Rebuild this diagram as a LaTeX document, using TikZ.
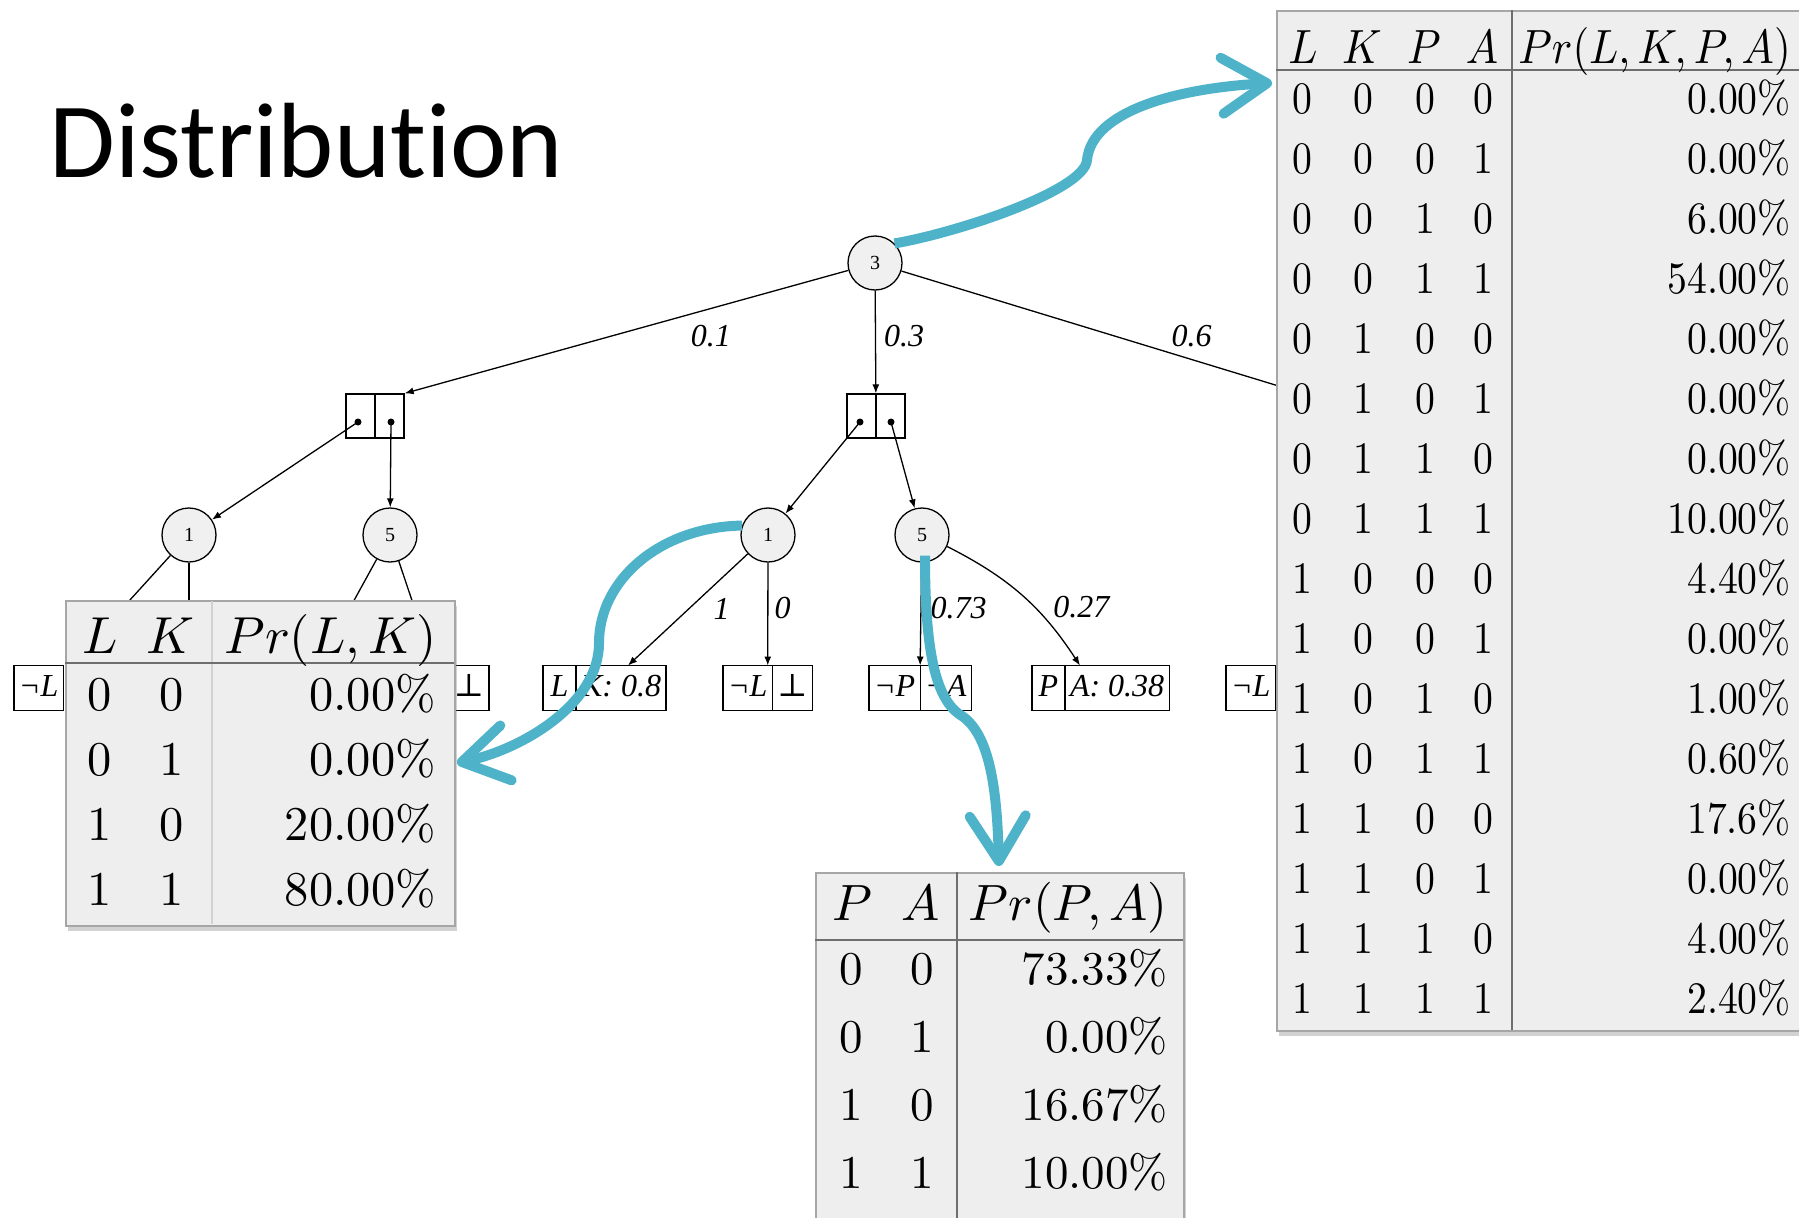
\documentclass[tikz,border=0pt]{standalone}
\usepackage{fontspec}
\usepackage{graphicx}
\usepackage{tikz}
\usetikzlibrary{arrows.meta,positioning,calc,shadows}
\newfontfamily\titlefont[Ligatures=NoCommon]{Carlito}
\newfontfamily\treefont{Liberation Serif}
\newfontfamily\botfont{DejaVu Serif}
\definecolor{callout}{HTML}{4EB3C9}
\definecolor{nodegray}{HTML}{F0F0F0}
\definecolor{tabgray}{HTML}{EEEEEE}
\definecolor{tabline}{HTML}{6E6E6E}
\newcommand{\cellLK}[1]{\scalebox{4.85}{#1}}
\newcommand{\headLK}[1]{\scalebox{5.2}{#1}}
\newcommand{\cellPA}[1]{\scalebox{4.7}{#1}}
\newcommand{\headPA}[1]{\scalebox{5.1}{#1}}
\newcommand{\cellAll}[1]{\scalebox{3.97}[4.5]{#1}}
\newcommand{\headAll}[1]{\scalebox{4.3}[4.8]{#1}}
\newcommand{\falsum}{{\botfont\upshape ⊥}}

\begin{document}
\begin{tikzpicture}[x=1pt,y=-1pt,
  var/.style={circle,draw,fill=nodegray,line width=1.3pt,minimum size=54pt,inner sep=0pt,font=\treefont\fontsize{20}{22}\selectfont},
  split/.style={draw,fill=white,line width=1.3pt,minimum width=58pt,minimum height=44pt,inner sep=0pt},
  leafcell/.style={draw,fill=white,line width=1.3pt,inner xsep=5pt,inner ysep=0pt,minimum width=33pt,text height=24pt,text depth=8pt,minimum height=45pt,outer sep=0pt,font=\treefont\itshape\fontsize{32}{38}\selectfont},
  edge/.style={line width=1.3pt,-{Latex[length=9pt,width=7pt]}},
  lbl/.style={font=\treefont\itshape\fontsize{32}{38}\selectfont,inner sep=2pt},
  tabframe/.style={draw=black!35,fill=tabgray,line width=1.5pt,inner sep=0pt,drop shadow={shadow xshift=2pt,shadow yshift=-5pt,opacity=0.35}},
  tabrule/.style={draw=tabline,line width=2pt},
  cell/.style={inner sep=0pt},
  callarrow/.style={draw=callout,line width=10pt,-{Straight Barb[length=45pt,width=56pt,round]}}]
\fill[white] (0,0) rectangle (1799,1218);
\useasboundingbox (0,0) rectangle (1799,1218);

\node[anchor=base west,inner sep=0pt,font=\titlefont\fontsize{107}{120}\selectfont] (title) at (49,177) {Distribution};

\node[var] (root) at (875,263) {3};
\node[split] (lsplit) at (375,416) {};
\node[split] (msplit) at (876,416) {};
\coordinate (rsplit) at (1377,416);
\draw[line width=1.3pt] (lsplit.north) -- (lsplit.south);
\draw[line width=1.3pt] (msplit.north) -- (msplit.south);
\coordinate (lsA) at (358,422);
\coordinate (lsB) at (391,422);
\coordinate (msA) at (860,422);
\coordinate (msB) at (891,422);
\foreach \d in {lsA,lsB,msA,msB} \fill (\d) circle (3.5);

\node[var] (l1) at (189,535) {1};
\node[var] (l5) at (390,535) {5};
\node[var] (m1) at (768,535) {1};
\node[var] (m5) at (922,535) {5};

\node[leafcell,anchor=west] (llA) at (14,688) {¬L};
\node[leafcell,anchor=east] (llB) at (489,688) {\falsum};
\node[leafcell,anchor=west] (lkA) at (543,688) {L};
\node[leafcell,right=0pt of lkA] (lkB) {K: 0.8};
\node[leafcell,anchor=west] (nlA) at (723,688) {¬L};
\node[leafcell,right=0pt of nlA] (nlB) {\falsum};
\node[leafcell,anchor=west] (npA) at (869,688) {¬P};
\node[leafcell,right=0pt of npA] (npB) {¬A};
\node[leafcell,anchor=west] (paA) at (1032,688) {P};
\node[leafcell,right=0pt of paA] (paB) {A: 0.38};
\node[leafcell,anchor=west] (rlA) at (1226,688) {¬L};

\coordinate (lt1) at (70,666);
\coordinate (lt2) at (189,666);
\coordinate (lt3) at (318,666);
\coordinate (lt4) at (434,666);

\draw[edge] (root) -- node[lbl,pos=0.31,below=14pt]{0.1} (lsplit.north east);
\draw[edge] (root) -- node[lbl,pos=0.44,right=6pt]{0.3} (msplit);
\draw[edge] (root) -- node[lbl,pos=0.61,above=10pt]{0.6} (rsplit);
\draw[edge] (lsA) -- (l1);
\draw[edge] (lsB) -- (l5);
\draw[edge] (msA) -- (m1);
\draw[edge] (msB) -- (m5);
\draw[edge] (l1) -- (lt1);
\draw[edge] (l1) -- (lt2);
\draw[edge] (l5) -- (lt3);
\draw[edge] (l5) -- (lt4);
\draw[edge] (m1) -- node[lbl,pos=0.49,right=22pt]{1} ($(lkB.north)+(7,0)$);
\draw[edge] (m1) -- node[lbl,pos=0.44,right=4pt]{0} ($(nlA.north west)!0.5!(nlB.north east)$);
\draw[edge] (m5) -- node[lbl,pos=0.44,right=7pt]{0.73} ($(npA.north west)!0.5!(npB.north east)$);
\draw[edge] (m5) to[bend left=15] node[lbl,pos=0.6,right=16pt]{0.27} ($(paA.north west)+(48,0)$);

\node[tabframe,anchor=north west,minimum width=389pt,minimum height=325pt] (lktab) at (65,600) {};
\draw[black!18,line width=1.2pt] (212,601) -- (212,924);
\draw[tabrule] (65,663) -- (454,663);
\node[cell,anchor=base] (lkhL) at (100,653) {\headLK{$L$}};
\node[cell,anchor=base] (lkhK) at (170,653) {\headLK{$K$}};
\node[cell,anchor=base east] (lkhP) at (437,653) {\headLK{$Pr(L,K)$}};
\foreach \l/\k/\v [count=\i] in {0/0/0.00,0/1/0.00,1/0/20.00,1/1/80.00}{
  \node[cell,anchor=base] (lkL\i) at (100,645+65*\i) {\cellLK{\l}};
  \node[cell,anchor=base] (lkK\i) at (172,645+65*\i) {\cellLK{\k}};
  \node[cell,anchor=base east] (lkV\i) at (436,645+65*\i) {\cellLK{\v\%}};
}

\node[tabframe,anchor=north west,minimum width=368pt,minimum height=360pt] (patab) at (815,872) {};
\draw[tabline,line width=1.5pt] (957,872) -- (957,1232);
\draw[tabrule] (815,940) -- (1183,940);
\node[cell,anchor=base] (pahP) at (852,920) {\headPA{$P$}};
\node[cell,anchor=base] (pahA) at (921,920) {\headPA{$A$}};
\node[cell,anchor=base east] (pahV) at (1168,920) {\headPA{$Pr(P,A)$}};
\foreach \p/\a/\v [count=\i] in {0/0/73.33,0/1/0.00,1/0/16.67,1/1/10.00}{
  \node[cell,anchor=base] (paP\i) at (851,916+68*\i) {\cellPA{\p}};
  \node[cell,anchor=base] (paA\i) at (922,916+68*\i) {\cellPA{\a}};
  \node[cell,anchor=base east] (paV\i) at (1168,916+68*\i) {\cellPA{\v\%}};
}

\node[tabframe,anchor=north west,minimum width=540pt,minimum height=1020pt] (alltab) at (1276,10) {};
\draw[tabline,line width=1.5pt] (1512,10) -- (1512,1030);
\draw[tabrule] (1276,70) -- (1816,70);
\foreach \h/\x in {L/1303,K/1362,P/1424,A/1482}
  \node[cell,anchor=base] (allh\h) at (\x,63) {\headAll{$\h$}};
\node[cell,anchor=base east] (allhV) at (1791,63) {\headAll{$Pr(L,K,P,A)$}};
\foreach \l/\k/\p/\a/\v [count=\i] in {0/0/0/0/0.00,0/0/0/1/0.00,0/0/1/0/6.00,0/0/1/1/54.00,
    0/1/0/0/0.00,0/1/0/1/0.00,0/1/1/0/0.00,0/1/1/1/10.00,1/0/0/0/4.40,1/0/0/1/0.00,
    1/0/1/0/1.00,1/0/1/1/0.60,1/1/0/0/17.6,1/1/0/1/0.00,1/1/1/0/4.00,1/1/1/1/2.40}{
  \node[cell,anchor=base] (allL\i) at (1302,53+60*\i) {\cellAll{\l}};
  \node[cell,anchor=base] (allK\i) at (1363,53+60*\i) {\cellAll{\k}};
  \node[cell,anchor=base] (allP\i) at (1425,53+60*\i) {\cellAll{\p}};
  \node[cell,anchor=base] (allA\i) at (1483,53+60*\i) {\cellAll{\a}};
  \node[cell,anchor=base east] (allV\i) at (1791,53+60*\i) {\cellAll{\v\%}};
}

\coordinate (allin) at (1272,83);
\coordinate (lkin) at (457,763);
\coordinate (pain) at (999,866);
\draw[callarrow] (root.north east) .. controls (960,232) and (1085,190) .. (1087,160) .. controls (1092,110) and (1180,88) .. (allin);
\draw[callarrow] (m1.160) .. controls (660,527) and (599,580) .. (599,643) .. controls (599,705) and (520,750) .. (lkin);
\draw[callarrow] ($(m5.south)+(3,-7)$) .. controls (925,650) and (935,700) .. (962,716) .. controls (990,735) and (997,790) .. (pain);
\end{tikzpicture}
\end{document}
